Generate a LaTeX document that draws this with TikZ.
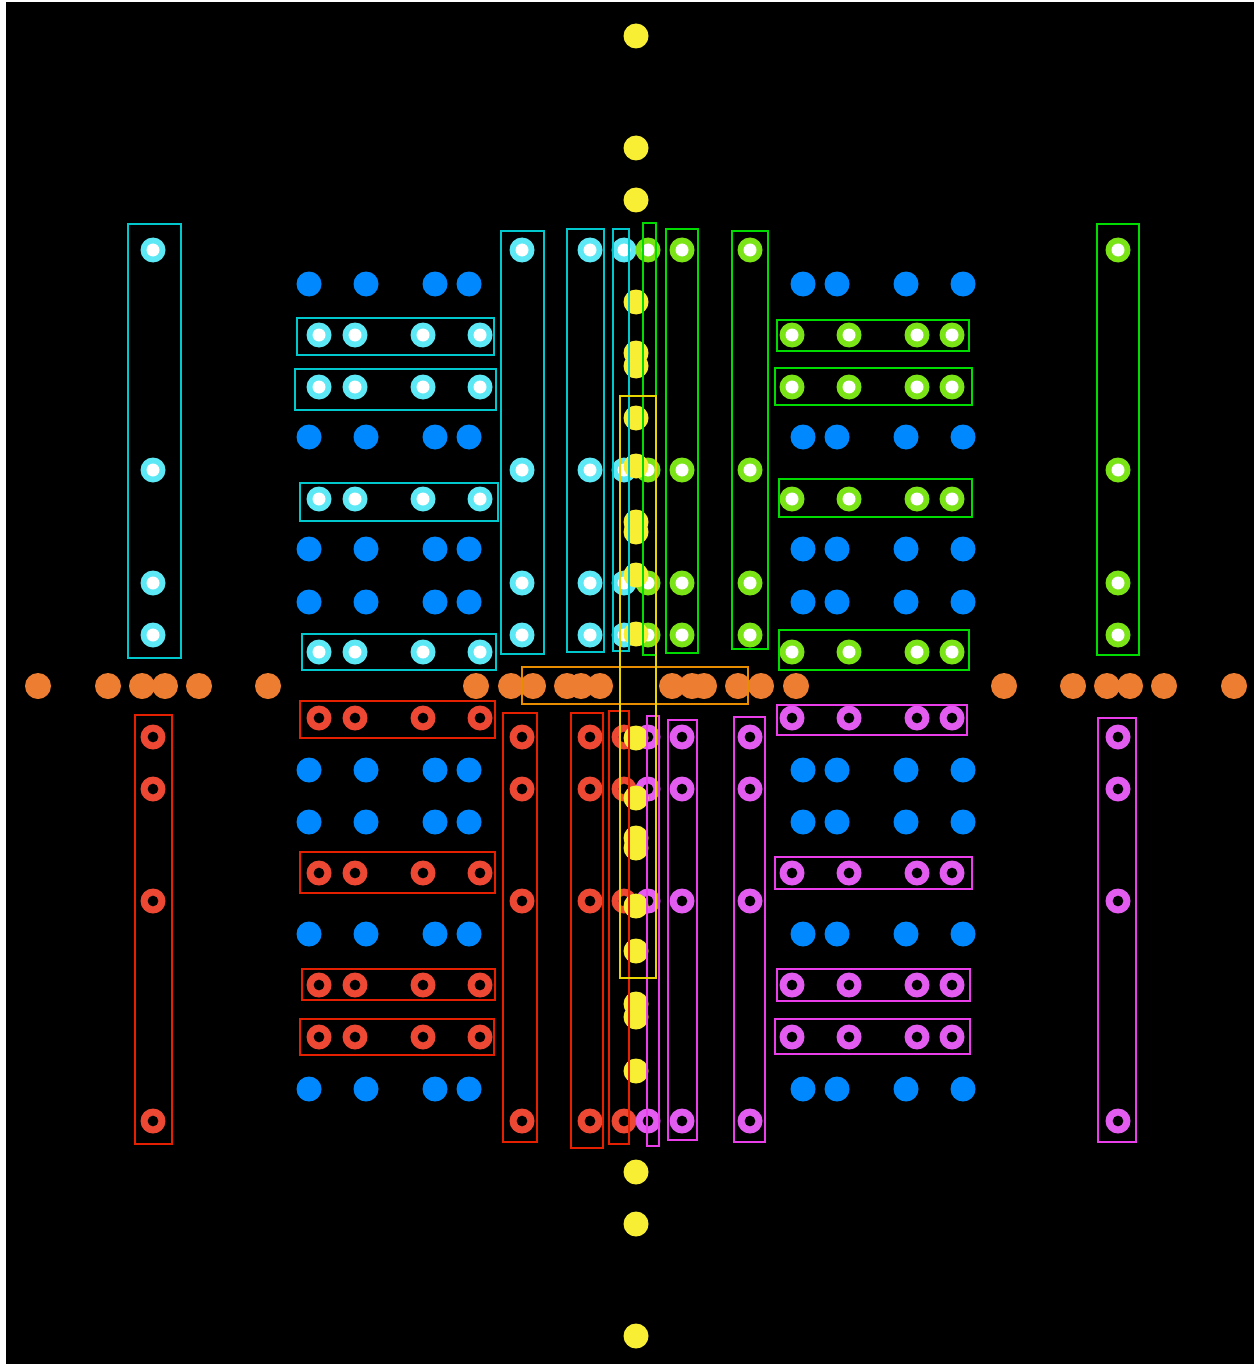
\documentclass[tikz,border=0pt]{standalone}

\definecolor{dotyellow}{RGB}{248,238,52}
\definecolor{dotorange}{RGB}{237,125,49}
\definecolor{dotblue}{RGB}{0,136,255}
\definecolor{dotcyan}{RGB}{92,232,245}
\definecolor{dotgreen}{RGB}{122,228,22}
\definecolor{dotred}{RGB}{236,72,52}
\definecolor{dotmagenta}{RGB}{226,92,240}
\definecolor{boxcyan}{RGB}{0,200,205}
\definecolor{boxgreen}{RGB}{0,220,0}
\definecolor{boxred}{RGB}{228,32,0}
\definecolor{boxmagenta}{RGB}{235,62,235}
\definecolor{boxyellow}{RGB}{232,212,0}
\definecolor{boxorange}{RGB}{232,140,0}

\begin{document}
\begin{tikzpicture}[x=1pt,y=-1pt,
        bluept/.style={fill=dotblue},
        orangept/.style={fill=dotorange},
        yellowpt/.style={fill=dotyellow},
        cyanpt/.style={fill=dotcyan},
        greenpt/.style={fill=dotgreen},
        redring/.style={fill=dotred,even odd rule},
        magring/.style={fill=dotmagenta,even odd rule},
        frame/.style={line width=1.7pt}]

        \useasboundingbox (0,0) rectangle (1254,1364);
        \fill[white] (0,0) rectangle (1254,1364);
        \fill[black] (6,2) rectangle (1254,1364);

        % modre body
        \foreach \y in {284,437,549,602,770,822,934,1089}
            \foreach \x in {309,366,435,469,803,837,906,963}
                \fill[bluept] (\x,\y) circle (12.5);

        % oranzova osa
        \foreach \x in {38,108,142,165,199,268,476,511,533,567,581,600,
                        672,692,704,738,761,796,1004,1073,1107,1130,1164,1234}
            \fill[orangept] (\x,686) circle (13);

        % azurove body (radky a sloupce)
        \foreach \y in {335,387,499,652}
            \foreach \x in {319,355,423,480} {
                \fill[cyanpt] (\x,\y) circle (12.5);
                \fill[white] (\x,\y) circle (6.5);
            }
        \foreach \x in {153,522,590,624}
            \foreach \y in {250,470,583,635} {
                \fill[cyanpt] (\x,\y) circle (12.5);
                \fill[white] (\x,\y) circle (6.5);
            }

        % zelene body
        \foreach \y in {335,387,499,652}
            \foreach \x in {792,849,917,952} {
                \fill[greenpt] (\x,\y) circle (12.5);
                \fill[white] (\x,\y) circle (6.5);
            }
        \foreach \x in {648,682,750,1118}
            \foreach \y in {250,470,583,635} {
                \fill[greenpt] (\x,\y) circle (12.5);
                \fill[white] (\x,\y) circle (6.5);
            }

        % cervene krouzky
        \foreach \y in {718,873,985,1037}
            \foreach \x in {319,355,423,480}
                \fill[redring] (\x,\y) circle (12.5) circle (5.5);
        \foreach \x in {153,522,590,624}
            \foreach \y in {737,789,901,1121}
                \fill[redring] (\x,\y) circle (12.5) circle (5.5);

        % fialove krouzky
        \foreach \y in {718,873,985,1037}
            \foreach \x in {792,849,917,952}
                \fill[magring] (\x,\y) circle (12.5) circle (5.5);
        \foreach \x in {648,682,750,1118}
            \foreach \y in {737,789,901,1121}
                \fill[magring] (\x,\y) circle (12.5) circle (5.5);

        % zluta osa
        \foreach \y in {36,148,200,302,353,366,418,466,522,532,575,634,
                        738,798,838,848,906,951,1004,1017,1071,1172,1224,1336}
            \fill[yellowpt] (636,\y) circle (12.5);

        % azurove ramecky
        \draw[frame,boxcyan] (128,224) rectangle (181,658);
        \draw[frame,boxcyan] (501,231) rectangle (544,654);
        \draw[frame,boxcyan] (567,229) rectangle (604,652);
        \draw[frame,boxcyan] (613,229) rectangle (629,651);
        \draw[frame,boxcyan] (297,318) rectangle (494,355);
        \draw[frame,boxcyan] (295,369) rectangle (496,410);
        \draw[frame,boxcyan] (300,483) rectangle (498,521);
        \draw[frame,boxcyan] (302,634) rectangle (496,670);

        % zelene ramecky
        \draw[frame,boxgreen] (643,223) rectangle (656,655);
        \draw[frame,boxgreen] (666,229) rectangle (698,653);
        \draw[frame,boxgreen] (732,231) rectangle (768,649);
        \draw[frame,boxgreen] (1097,224) rectangle (1139,655);
        \draw[frame,boxgreen] (777,320) rectangle (969,351);
        \draw[frame,boxgreen] (775,368) rectangle (972,405);
        \draw[frame,boxgreen] (779,479) rectangle (972,517);
        \draw[frame,boxgreen] (779,630) rectangle (969,670);

        % cervene ramecky
        \draw[frame,boxred] (135,715) rectangle (172,1144);
        \draw[frame,boxred] (503,713) rectangle (537,1142);
        \draw[frame,boxred] (571,713) rectangle (603,1148);
        \draw[frame,boxred] (609,711) rectangle (629,1144);
        \draw[frame,boxred] (300,701) rectangle (495,738);
        \draw[frame,boxred] (300,852) rectangle (495,893);
        \draw[frame,boxred] (302,969) rectangle (495,1000);
        \draw[frame,boxred] (300,1019) rectangle (494,1055);

        % fialove ramecky
        \draw[frame,boxmagenta] (647,716) rectangle (659,1146);
        \draw[frame,boxmagenta] (668,720) rectangle (697,1140);
        \draw[frame,boxmagenta] (734,717) rectangle (765,1142);
        \draw[frame,boxmagenta] (1098,718) rectangle (1136,1142);
        \draw[frame,boxmagenta] (777,705) rectangle (967,735);
        \draw[frame,boxmagenta] (775,857) rectangle (972,889);
        \draw[frame,boxmagenta] (777,969) rectangle (970,1001);
        \draw[frame,boxmagenta] (775,1019) rectangle (970,1054);

        % stredove ramecky
        \draw[frame,boxorange] (522,667) rectangle (748,704);
        \draw[frame,boxyellow] (620,396) rectangle (656,978);

    \end{tikzpicture}
\end{document}
